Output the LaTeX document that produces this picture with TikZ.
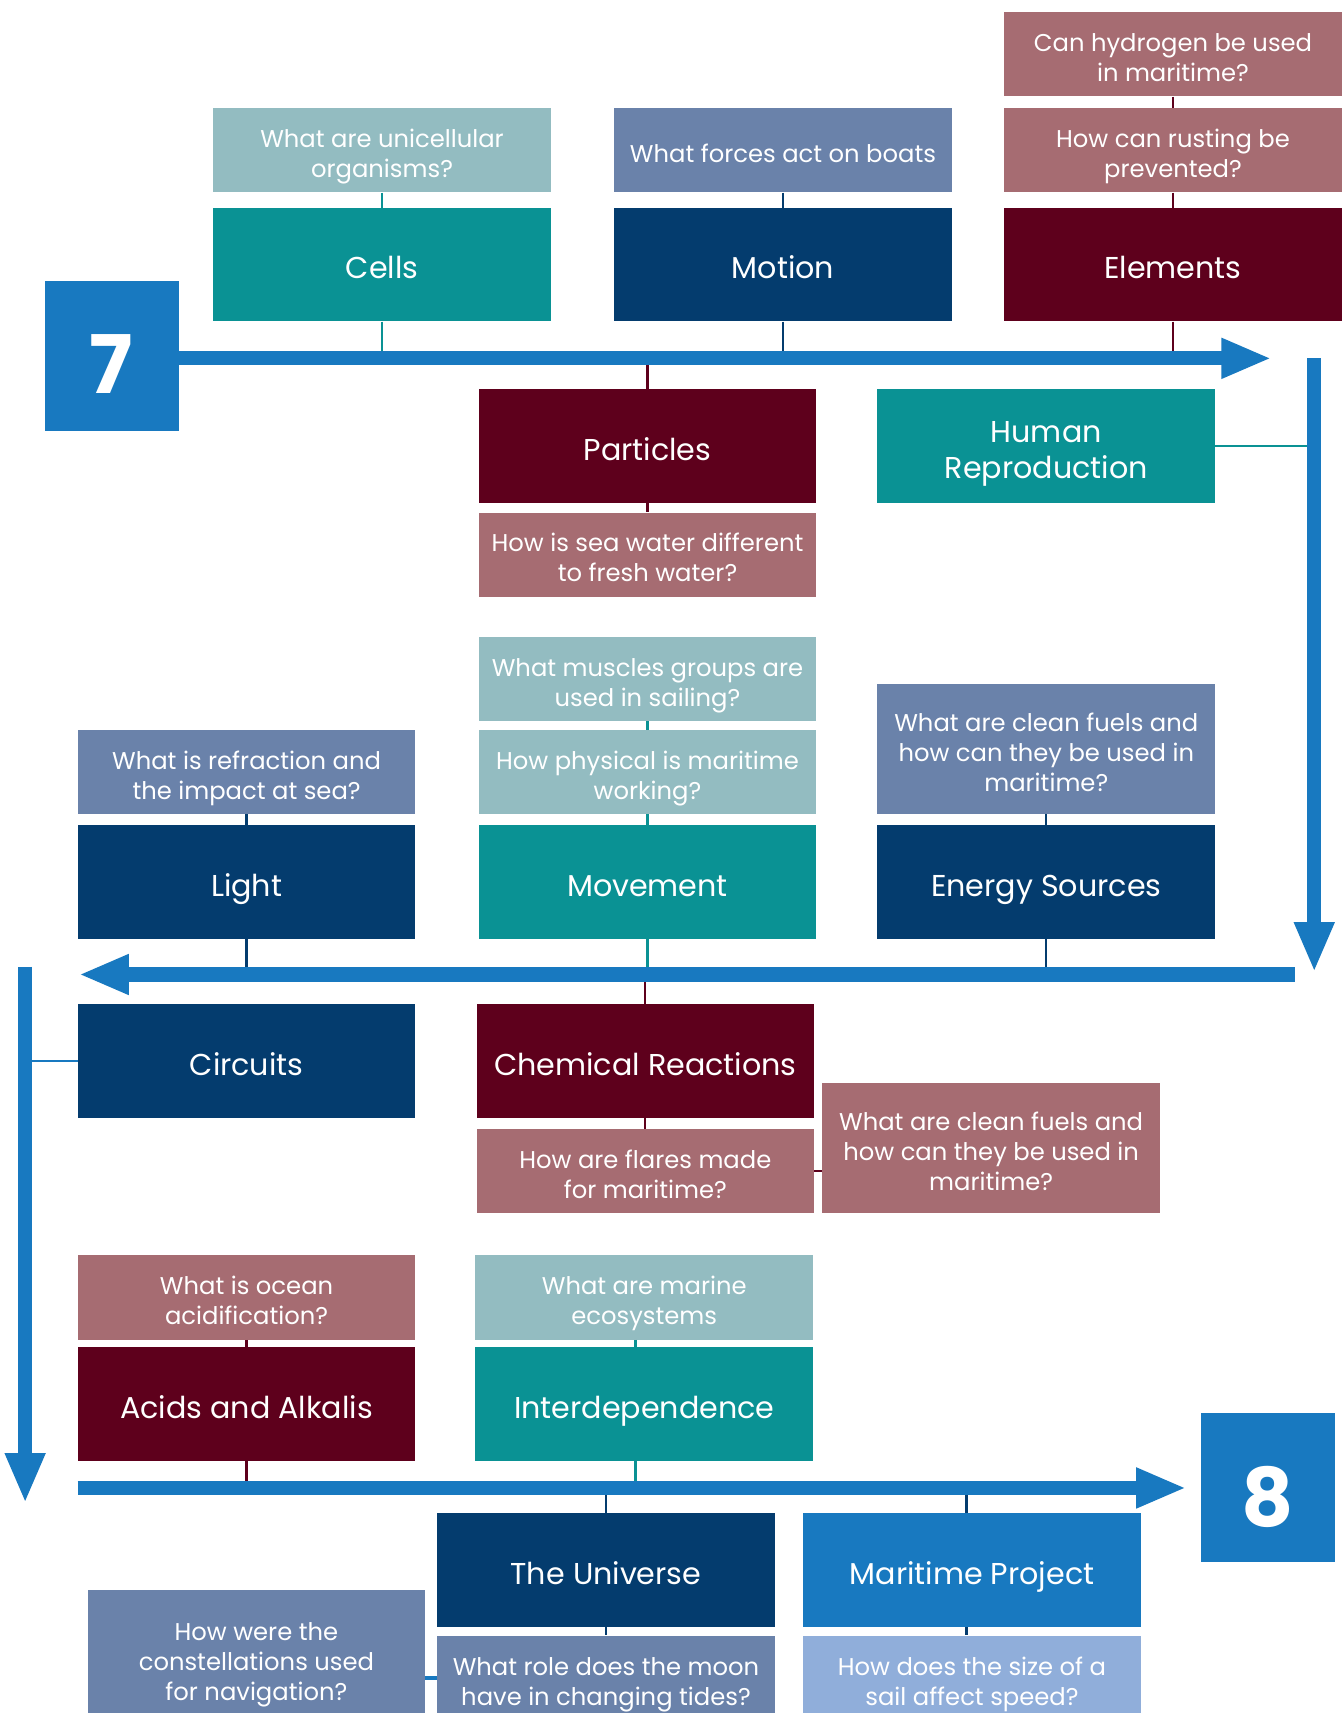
\documentclass[tikz,border=0pt]{standalone}
\usepackage{fontspec}
\setmainfont{Poppins}
\usetikzlibrary{arrows.meta}
\definecolor{tealm}{HTML}{0A9294}
\definecolor{tealq}{HTML}{93BCC1}
\definecolor{navym}{HTML}{043C6E}
\definecolor{slateq}{HTML}{6A82AA}
\definecolor{maroonm}{HTML}{5E001C}
\definecolor{roseq}{HTML}{A66C72}
\definecolor{bluem}{HTML}{1879C0}
\definecolor{blueq}{HTML}{90AEDA}
\newcommand\myqf{\fontsize{22.2}{27.5}\selectfont}
\newcommand\mymf{\fontsize{27.6}{33.5}\selectfont}
\newcommand\mynf{\fontsize{74}{74}\selectfont\bfseries}
\begin{document}
\begin{tikzpicture}[x=1pt,y=-1pt,
  mbox/.style={rectangle, inner sep=0pt, anchor=north west, minimum width=309pt, minimum height=104pt, text=white, align=center, font=\mymf, text height=26.3pt, text depth=0pt},
  mtwo/.style={text height=59.8pt},
  qbox/.style={rectangle, inner sep=0pt, anchor=north west, minimum width=309pt, minimum height=77pt, text=white, align=center, font=\myqf, text height=22.5pt, text depth=0pt},
  qtwo/.style={text height=50pt},
  qthree/.style={text height=77.5pt},
  numbox/.style={rectangle, inner sep=0pt, anchor=north west, fill=bluem, minimum width=123pt, minimum height=137pt},
  conn/.style={line width=2pt},
  tline/.style={line width=13pt, draw=bluem},
  thead/.style={-{Triangle[length=46pt,width=34pt]}}
]
\clip (0,0) rectangle (1229,1568);
\fill[white] (0,0) rectangle (1229,1568);

% ---- coordinates of timelines
\coordinate (t1s) at (163,328);
\coordinate (t1e) at (1164,328);
\coordinate (v1s) at (1203,328);
\coordinate (v1e) at (1203,890);
\coordinate (t2s) at (1185,892);
\coordinate (t2e) at (72,892);
\coordinate (v2s) at (23,885);
\coordinate (v2e) at (23,1376);
\coordinate (t3s) at (71,1362);
\coordinate (t3e) at (1086,1362);

% ---- top row
\node[qbox, qtwo, fill=tealq] (cellsq) at (195,99) {What are unicellular\\organisms?};
\node[mbox, fill=tealm] (cells) at (195,190) {Cells};
\node[qbox, fill=slateq] (motionq) at (562,99) {What forces act on boats};
\node[mbox, fill=navym] (motion) at (562,190) {Motion};
\node[qbox, qtwo, fill=roseq] (hydq) at (919,11) {Can hydrogen be used\\in maritime?};
\node[qbox, qtwo, fill=roseq] (rustq) at (919,99) {How can rusting be\\prevented?};
\node[mbox, fill=maroonm] (elements) at (919,190) {Elements};
\node[numbox] (seven) at (41,257) {};
\node[text=white, font=\mynf, anchor=base, inner sep=0pt] (seventxt) at (102,360) {7};

\node[mbox, fill=maroonm] (particles) at (438,356) {Particles};
\node[qbox, qtwo, fill=roseq] (seaq) at (438,469) {How is sea water different\\to fresh water?};
\node[mbox, mtwo, fill=tealm] (human) at (803,356) {Human\\Reproduction};

% ---- second row
\node[qbox, qtwo, fill=slateq] (lightq) at (71,668) {What is refraction and\\the impact at sea?};
\node[mbox, fill=navym] (light) at (71,755) {Light};
\node[qbox, qtwo, fill=tealq] (musq) at (438,583) {What muscles groups are\\used in sailing?};
\node[qbox, qtwo, fill=tealq] (physq) at (438,668) {How physical is maritime\\working?};
\node[mbox, fill=tealm] (movement) at (438,755) {Movement};
\node[qbox, qthree, fill=slateq, minimum height=119pt] (energyq) at (803,626) {What are clean fuels and\\how can they be used in\\maritime?};
\node[mbox, fill=navym] (energy) at (803,755) {Energy Sources};

% ---- third row
\node[mbox, fill=navym] (circuits) at (71,919) {Circuits};
\node[mbox, fill=maroonm] (chem) at (436,919) {Chemical Reactions};
\node[qbox, qtwo, fill=roseq] (flaresq) at (436,1033) {How are flares made\\for maritime?};
\node[qbox, qthree, fill=roseq, minimum width=310pt, minimum height=119pt] (fuelsq) at (752,991) {What are clean fuels and\\how can they be used in\\maritime?};

\node[qbox, qtwo, fill=roseq] (acidq) at (71,1149) {What is ocean\\acidification?};
\node[mbox, fill=maroonm] (acids) at (71,1233) {Acids and Alkalis};
\node[qbox, qtwo, fill=tealq] (ecoq) at (435,1149) {What are marine\\ecosystems};
\node[mbox, fill=tealm] (inter) at (435,1233) {Interdependence};

\node[numbox] (eight) at (1099,1293) {};
\node[text=white, font=\mynf, anchor=base, inner sep=0pt] (eighttxt) at (1160,1397) {8};

% ---- bottom row
\node[mbox, fill=navym] (universe) at (400,1385) {The Universe};
\node[qbox, qtwo, fill=slateq] (moonq) at (400,1497) {What role does the moon\\have in changing tides?};
\node[mbox, fill=bluem] (maritime) at (735,1385) {Maritime Project};
\node[qbox, qtwo, fill=blueq] (sailq) at (735,1497) {How does the size of a\\sail affect speed?};
\node[qbox, qthree, fill=slateq, minimum height=126pt] (constq) at (80,1455) {How were the\\constellations used\\for navigation?};

% ---- connectors
\draw[conn, tealm] (cellsq.south) -- (cells.north);
\draw[conn, tealm] (cells.south) -- (cells.south |- t1s);
\draw[conn, navym] (motionq.south) -- (motion.north);
\draw[conn, navym] (motion.south) -- (motion.south |- t1s);
\draw[conn, maroonm] (hydq.south) -- (rustq.north);
\draw[conn, maroonm] (rustq.south) -- (elements.north);
\draw[conn, maroonm] (elements.south) -- (elements.south |- t1s);
\draw[conn, maroonm] (particles.north |- t1s) -- (particles.north);
\draw[conn, maroonm] (particles.south) -- (seaq.north);
\draw[conn, tealm] (human.east) -- (human.east -| v1s);

\draw[conn, navym] (lightq.south) -- (light.north);
\draw[conn, navym] (light.south) -- (light.south |- t2s);
\draw[conn, tealm] (musq.south) -- (physq.north);
\draw[conn, tealm] (physq.south) -- (movement.north);
\draw[conn, tealm] (movement.south) -- (movement.south |- t2s);
\draw[conn, navym] (energyq.south) -- (energy.north);
\draw[conn, navym] (energy.south) -- (energy.south |- t2s);

\draw[conn, bluem] (circuits.west) -- (circuits.west -| v2s);
\draw[conn, maroonm] (chem.north |- t2s) -- (chem.north);
\draw[conn, maroonm] (chem.south) -- (flaresq.north);
\draw[conn, maroonm] (flaresq.east) -- (flaresq.east -| fuelsq.west);

\draw[conn, maroonm] (acidq.south) -- (acids.north);
\draw[conn, maroonm] (acids.south) -- (acids.south |- t3s);
\draw[conn, tealm] ([xshift=-8pt]ecoq.south) -- ([xshift=-8pt]inter.north);
\draw[conn, tealm] ([xshift=-8pt]inter.south) -- ([xshift=-8pt]inter.south |- t3s);

\draw[conn, navym] (universe.north |- t3s) -- (universe.north);
\draw[conn, navym] (universe.south) -- (moonq.north);
\draw[conn, navym] ([xshift=-5pt]maritime.north |- t3s) -- ([xshift=-5pt]maritime.north);
\draw[conn, navym] ([xshift=-5pt]maritime.south) -- ([xshift=-5pt]sailq.north);
\draw[line width=3pt, bluem] (constq.east |- 0,1536) -- (moonq.west |- 0,1536);

% ---- timelines
\draw[tline, thead] (t1s) -- (t1e);
\draw[tline, thead] (v1s) -- (v1e);
\draw[tline, thead] (t2s) -- (t2e);
\draw[tline, thead] (v2s) -- (v2e);
\draw[tline, thead] (t3s) -- (t3e);
\end{tikzpicture}
\end{document}
